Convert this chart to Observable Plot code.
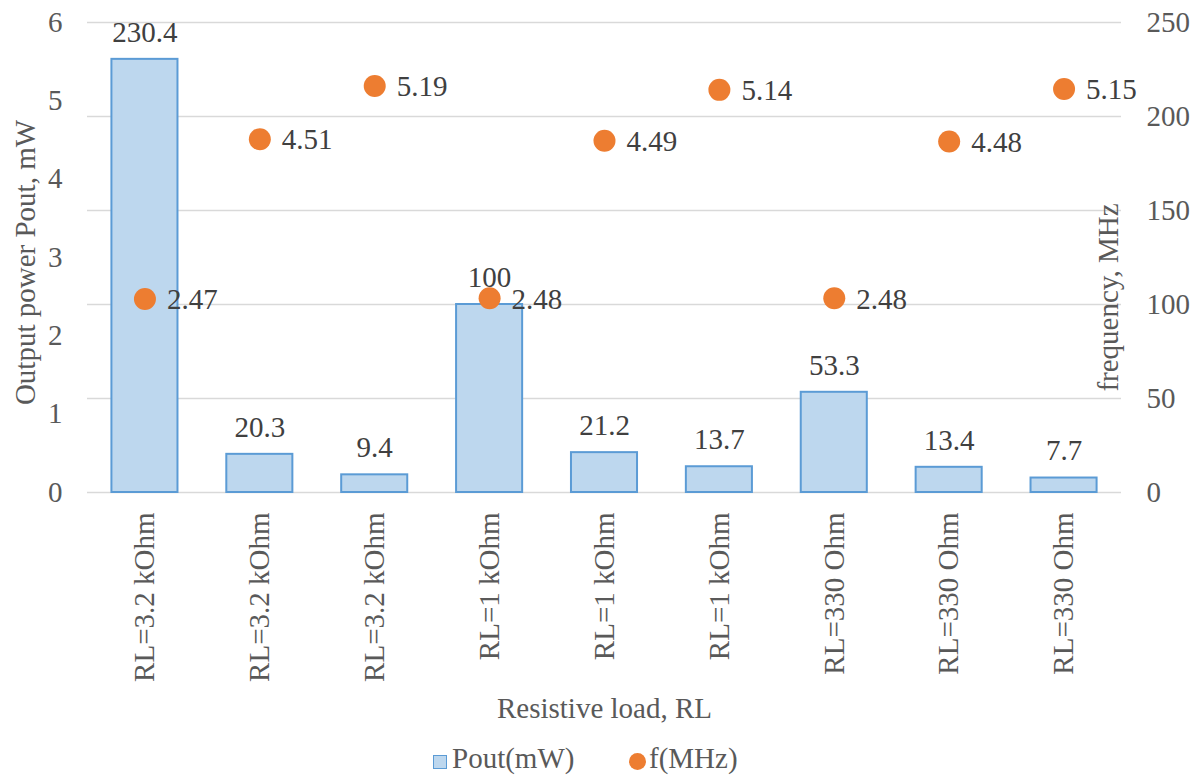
<!DOCTYPE html>
<html>
<head>
<meta charset="utf-8">
<script src="https://cdn.jsdelivr.net/npm/d3@7"></script>
<script src="https://cdn.jsdelivr.net/npm/@observablehq/plot@0.6"></script>
<style>
  html, body { margin: 0; padding: 0; background: #fff; }
  #chart { width: 1202px; }
  #chart svg text { font-family: 'Liberation Serif', 'Times New Roman', serif; }
  #legend { position: relative; width: 1202px; height: 36px; font-family: 'Liberation Serif', 'Times New Roman', serif; font-size: 29px; color: #595959; }
  #legend .sw { position: absolute; }
  #legend .lb { position: absolute; top: 0; line-height: 36px; white-space: nowrap; }
</style>
</head>
<body>
<div id="chart"></div>
<div id="legend">
  <span class="sw" style="left:433px; top:15px; width:12px; height:12px; background:#BDD7EE; border:1.5px solid #5B9BD5;"></span>
  <span class="lb" style="left:452px;">Pout(mW)</span>
  <span class="sw" style="left:629px; top:13px; width:17px; height:17px; border-radius:50%; background:#ED7D31;"></span>
  <span class="lb" style="left:649px;">f(MHz)</span>
</div>
<script>
const loads = ["RL=3.2 kOhm", "RL=3.2 kOhm", "RL=3.2 kOhm", "RL=1 kOhm", "RL=1 kOhm", "RL=1 kOhm", "RL=330 Ohm", "RL=330 Ohm", "RL=330 Ohm"];
const pout = [230.4, 20.3, 9.4, 100, 21.2, 13.7, 53.3, 13.4, 7.7];
const freq = [2.47, 4.51, 5.19, 2.48, 4.49, 5.14, 2.48, 4.48, 5.15];
const leftTicks = [0, 1, 2, 3, 4, 5, 6];
const rightTicks = [0, 50, 100, 150, 200, 250];
const leftMax = 6, rightMax = 250;
const leftTitle = "Output power Pout, mW";
const rightTitle = "frequency, MHz";
const xTitle = "Resistive load, RL";

const FONT = "'Liberation Serif', 'Times New Roman', serif";
const k = rightMax / leftMax;
const data = loads.map((load, i) => ({i, load, pout: pout[i], freq: freq[i], fy: freq[i] * k}));

const chart = Plot.plot({
  width: 1202,
  height: 740,
  marginTop: 22,
  marginBottom: 248,
  marginLeft: 87,
  marginRight: 81,
  style: `font-family: ${FONT}; font-size: 29px; color: #595959; background: #fff;`,
  x: {type: "band", domain: d3.range(loads.length), paddingInner: 0.425, paddingOuter: 0.2125, round: false, axis: null},
  y: {domain: [0, rightMax], axis: null},
  marks: [
    Plot.ruleY(rightTicks, {stroke: "#D9D9D9", strokeWidth: 1.3}),
    Plot.barY(data, {x: "i", y: "pout", fill: "#BDD7EE", stroke: "#5B9BD5", strokeWidth: 2}),
    Plot.text(data, {x: "i", y: "pout", text: d => String(d.pout), dy: -27, fill: "#404040", fontFamily: FONT, fontSize: 29}),
    Plot.dot(data, {x: "i", y: "fy", r: 11, fill: "#ED7D31", stroke: "none"}),
    Plot.text(data, {x: "i", y: "fy", text: d => d.freq.toFixed(2), dx: 22, dy: 1, textAnchor: "start", fill: "#404040", fontFamily: FONT, fontSize: 29}),
    Plot.axisY(leftTicks.map(v => v * k), {anchor: "left", tickSize: 0, tickPadding: 25, tickFormat: d => String(Math.round(d / k)), fontFamily: FONT, fontSize: 29}),
    Plot.axisY(rightTicks, {anchor: "right", tickSize: 0, tickPadding: 25, fontFamily: FONT, fontSize: 29}),
    Plot.text(data, {x: "i", text: "load", frameAnchor: "bottom", rotate: -90, textAnchor: "end", lineAnchor: "middle", dy: 20, fill: "#595959", fontFamily: FONT, fontSize: 29}),
    Plot.text([leftTitle], {frameAnchor: "left", textAnchor: "middle", lineAnchor: "middle", dx: -62, dy: 5, rotate: -90, fill: "#595959", fontFamily: FONT, fontSize: 29}),
    Plot.text([rightTitle], {frameAnchor: "right", textAnchor: "middle", lineAnchor: "middle", dx: -13, dy: 40, rotate: -90, fill: "#595959", fontFamily: FONT, fontSize: 29}),
    Plot.text([xTitle], {frameAnchor: "bottom", textAnchor: "middle", lineAnchor: "middle", dy: 216, fill: "#595959", fontFamily: FONT, fontSize: 29})
  ]
});
document.getElementById("chart").appendChild(chart);
</script>
</body>
</html>
